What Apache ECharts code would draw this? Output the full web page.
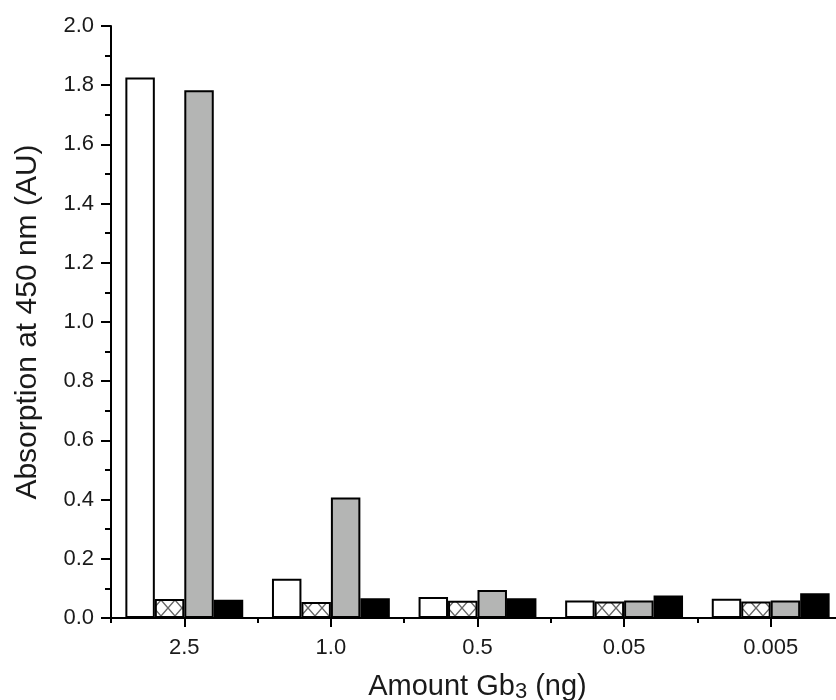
<!DOCTYPE html>
<html>
<head>
<meta charset="utf-8">
<script src="https://cdn.jsdelivr.net/npm/echarts@6/dist/echarts.min.js"></script>
<style>
html,body{margin:0;padding:0;background:#fff;}
#chart{width:836px;height:700px;}
</style>
</head>
<body>
<div id="chart"></div>
<script>
// Data
var categories = ['2.5', '1.0', '0.5', '0.05', '0.005'];
var whiteValues = [1.826, 0.133, 0.071, 0.059, 0.065];
var hatchValues = [0.064, 0.054, 0.058, 0.056, 0.056];
var grayValues  = [1.783, 0.407, 0.095, 0.059, 0.059];
var blackValues = [0.062, 0.067, 0.067, 0.076, 0.084];
var yTicks = [0, 2.0, 0.2];

// cross-hatch pattern
var pc = document.createElement('canvas');
pc.width = 14; pc.height = 16;
var g = pc.getContext('2d');
g.fillStyle = '#ffffff';
g.fillRect(0, 0, 14, 16);
g.strokeStyle = '#666666';
g.lineWidth = 1.4;
g.beginPath();
g.moveTo(0, 0); g.lineTo(14, 16);
g.moveTo(14, 0); g.lineTo(0, 16);
g.stroke();

var FONT = "'Liberation Sans', Arial, sans-serif";
var TXT = '#1a1a1a';

var chart = echarts.init(document.getElementById('chart'), null, {renderer: 'canvas'});

function barSeries(name, data, color, border) {
  return {
    name: name,
    type: 'bar',
    data: data,
    xAxisIndex: 0,
    barGap: '0%',
    barCategoryGap: '19.6%',
    itemStyle: {color: color, borderColor: border, borderWidth: 2},
    emphasis: {disabled: true},
    animation: false
  };
}

chart.setOption({
  backgroundColor: '#ffffff',
  animation: false,
  grid: {left: 111, top: 26, width: 733, height: 592, containLabel: false, outerBoundsMode: 'none'},
  xAxis: [{
    type: 'category',
    data: categories,
    position: 'bottom',
    axisLine: {show: true, lineStyle: {color: '#000', width: 2}},
    axisTick: {show: true, alignWithLabel: false, length: 5, lineStyle: {color: '#000', width: 2}},
    axisLabel: {show: true, color: TXT, fontFamily: FONT, fontSize: 22, margin: 19},
    name: 'Amount Gb{sub|3} (ng)',
    nameLocation: 'middle',
    nameGap: 52,
    nameTextStyle: {
      color: TXT, fontFamily: FONT, fontSize: 29,
      rich: {sub: {fontFamily: FONT, fontSize: 22, color: TXT, verticalAlign: 'bottom', padding: [11, 0, 0, 0]}}
    }
  }, {
    type: 'category',
    data: categories,
    position: 'bottom',
    offset: 0,
    axisLine: {show: false},
    axisTick: {show: true, alignWithLabel: true, length: 9, lineStyle: {color: '#000', width: 2}},
    axisLabel: {show: false},
    splitLine: {show: false}
  }],
  yAxis: {
    type: 'value',
    min: yTicks[0],
    max: yTicks[1],
    interval: yTicks[2],
    axisLine: {show: true, lineStyle: {color: '#000', width: 2}},
    axisTick: {show: true, length: 10, lineStyle: {color: '#000', width: 2}},
    minorTick: {show: true, splitNumber: 2, length: 6, lineStyle: {color: '#000', width: 2}},
    splitLine: {show: false},
    axisLabel: {
      color: TXT, fontFamily: FONT, fontSize: 22, margin: 17,
      formatter: function (v) { return v.toFixed(1); }
    },
    name: 'Absorption at 450 nm (AU)',
    nameLocation: 'middle',
    nameGap: 68,
    nameTextStyle: {color: TXT, fontFamily: FONT, fontSize: 30}
  },
  series: [
    barSeries('white', whiteValues, '#ffffff', '#000000'),
    barSeries('hatch', hatchValues, {image: pc, repeat: 'repeat'}, '#000000'),
    barSeries('gray', grayValues, '#b4b5b4', '#000000'),
    barSeries('black', blackValues, '#000000', '#000000')
  ]
});
</script>
</body>
</html>
